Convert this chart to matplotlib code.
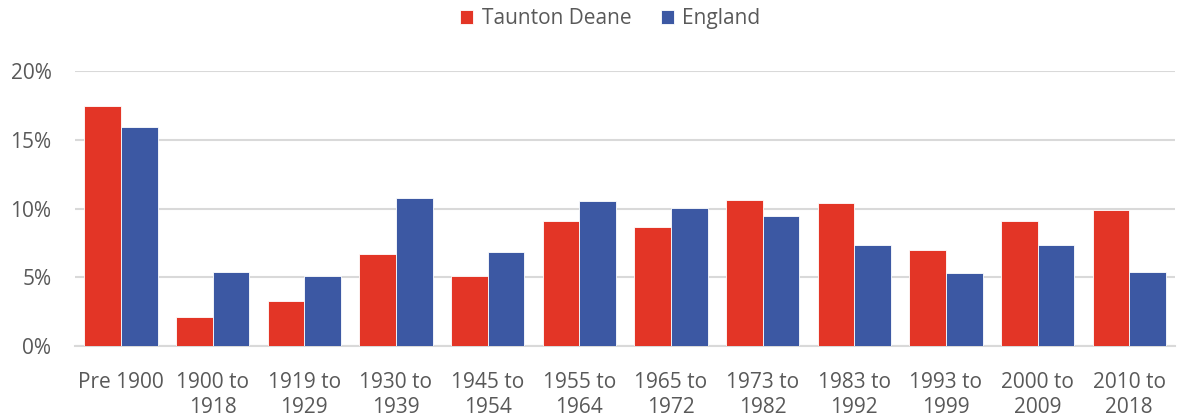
import matplotlib
matplotlib.use("Agg")
import matplotlib.pyplot as plt
import numpy as np

categories = ["Pre 1900", "1900 to\n1918", "1919 to\n1929", "1930 to\n1939", "1945 to\n1954",
              "1955 to\n1964", "1965 to\n1972", "1973 to\n1982", "1983 to\n1992", "1993 to\n1999",
              "2000 to\n2009", "2010 to\n2018"]
taunton = [17.46, 2.08, 3.29, 6.71, 5.13, 9.13, 8.67, 10.63, 10.44, 6.97, 9.10, 9.88]
england = [15.93, 5.38, 5.08, 10.80, 6.83, 10.53, 10.07, 9.49, 7.38, 5.28, 7.38, 5.38]
yticks = [0, 5, 10, 15, 20]

plt.rcParams['font.family'] = ['Open Sans', 'DejaVu Sans']
fig = plt.figure(figsize=(11.78, 4.19), dpi=100)
ax = fig.add_axes([0.0637, 0.174, 0.9338, 0.6565])

x = np.arange(len(categories))
w = 0.4
red = "#E33526"
blue = "#3C58A3"
ax.bar(x - w/2, taunton, w, color=red, edgecolor="white", linewidth=0.6, label="Taunton Deane", zorder=3)
ax.bar(x + w/2, england, w, color=blue, edgecolor="white", linewidth=0.6, label="England", zorder=3)

ax.set_xlim(-0.5, len(categories) - 0.5)
ax.set_ylim(0, 20)
ax.set_yticks(yticks)
ax.set_yticklabels([f"{v}%" for v in yticks])
ax.yaxis.grid(True, color="#D9D9D9", linewidth=1.5, zorder=0)
ax.set_axisbelow(True)
for s in ["top", "right", "left"]:
    ax.spines[s].set_visible(False)
ax.spines["bottom"].set_color("#D9D9D9")
ax.spines["bottom"].set_linewidth(1.5)
ax.set_xticks(x)
ax.set_xticklabels(categories, va="top", linespacing=1.2)
ax.tick_params(axis="both", length=0, labelsize=15, labelcolor="#595959")
ax.tick_params(axis="x", pad=19)
ax.tick_params(axis="y", pad=17)

fig.legend(loc="upper center", bbox_to_anchor=(0.518, 1.025), ncol=2, frameon=False,
           fontsize=15, labelcolor="#595959", handlelength=0.65, handleheight=0.65,
           handletextpad=0.4, columnspacing=1.4)

fig.savefig("out.png", dpi=100)
